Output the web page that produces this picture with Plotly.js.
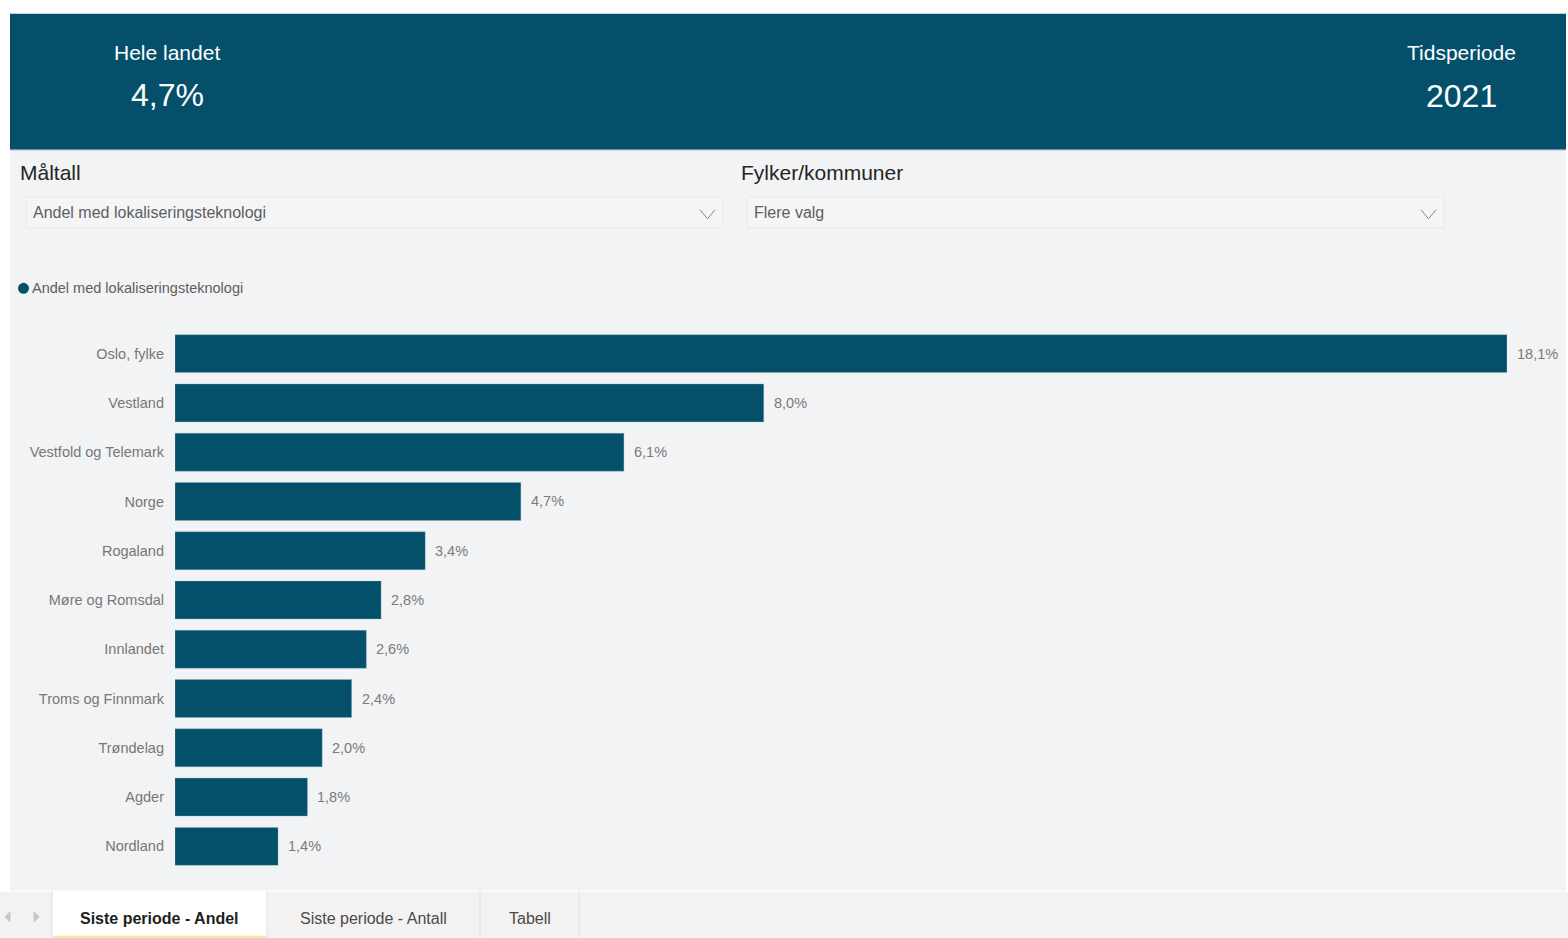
<!DOCTYPE html>
<html>
<head>
<meta charset="utf-8">
<script src="https://cdn.plot.ly/plotly-3.0.1.min.js"></script>
<style>html,body{margin:0;padding:0;background:#fff;}#chart{width:1568px;height:938px;}</style>
</head>
<body>
<div id="chart"></div>
<script>
// ---- data ----
const categories = ["Oslo, fylke","Vestland","Vestfold og Telemark","Norge","Rogaland","Møre og Romsdal","Innlandet","Troms og Finnmark","Trøndelag","Agder","Nordland"];
const values = [18.1, 8.0, 6.1, 4.7, 3.4, 2.8, 2.6, 2.4, 2.0, 1.8, 1.4];
const seriesName = "Andel med lokaliseringsteknologi";
const headerLeftLabel = "Hele landet";
const headerLeftValue = "4,7%";
const headerRightLabel = "Tidsperiode";
const headerRightValue = "2021";
const slicer1Title = "Måltall";
const slicer1Value = "Andel med lokaliseringsteknologi";
const slicer2Title = "Fylker/kommuner";
const slicer2Value = "Flere valg";
const tabs = ["Siste periode - Andel","Siste periode - Antall","Tabell"];

// ---- layout geometry ----
const W = 1568, H = 938;
const mL = 175, mR = 61, mT = 329.2, mB = 66.8;
const pw = W - mL - mR, ph = H - mT - mB;
const px = x => (x - mL) / pw;
const py = y => (H - mB - y) / ph;

const teal = "#04506a";
const FONT = "Liberation Sans, Arial, sans-serif";

function rect(x0,y0,x1,y1,fill,line,lw,layer){
  return {type:"rect",xref:"paper",yref:"paper",x0:px(x0),x1:px(x1),y0:py(y1),y1:py(y0),
    fillcolor:fill,line:{color:line||"rgba(0,0,0,0)",width:lw||0},layer:layer||"below"};
}
function line(x0,y0,x1,y1,color,w){
  return {type:"line",xref:"paper",yref:"paper",x0:px(x0),x1:px(x1),y0:py(y0),y1:py(y1),line:{color:color,width:w||1},layer:"above"};
}
function path(pts,color,w,fill){
  const d = pts.map((p,i)=>(i?"L":"M")+px(p[0])+","+py(p[1])).join(" ") + (fill?" Z":"");
  return {type:"path",xref:"paper",yref:"paper",path:d,line:{color:color,width:w||1},fillcolor:fill||"rgba(0,0,0,0)",layer:"above"};
}
function txt(x,y,text,size,color,xanchor,extra){
  return Object.assign({xref:"paper",yref:"paper",x:px(x),y:py(y),text:text,showarrow:false,
    xanchor:xanchor||"left",yanchor:"middle",font:{family:FONT,size:size,color:color}},extra||{});
}

const shapes = [
  rect(10,150,1566,891,"#f2f3f5"),
  rect(10,14,1566,150,teal),
  line(10,150,1566,150,"#7fa3b3",1),
  rect(26,197,723,228,"#f4f5f7","#e6e7ea",1),
  rect(747,197,1444,228,"#f4f5f7","#e6e7ea",1),
  path([[700,210],[707.5,219],[715,210]],"#8a8886",1),
  path([[1421,210],[1428.5,219],[1436,210]],"#8a8886",1),
  {type:"circle",xref:"paper",yref:"paper",x0:px(18),x1:px(29),y0:py(294),y1:py(283),fillcolor:teal,line:{width:0},layer:"above"},
  rect(0,892,W,938,"#f3f2f1"),
  rect(52,892,267,938,"#ffffff"),
  line(52,892,52,938,"#e1dfdd",1),
  line(267,892,267,938,"#e1dfdd",1),
  line(480,892,480,938,"#e1dfdd",1),
  line(579,892,579,938,"#e1dfdd",1),
  line(53,937,266,937,"#f2e6a0",2),
  path([[10,912],[5,917],[10,922]],"#c8c6c4",1,"#c8c6c4"),
  path([[34,912],[39,917],[34,922]],"#c8c6c4",1,"#c8c6c4")
];

const annotations = [
  txt(167,53,headerLeftLabel,21,"#ffffff","center"),
  txt(167,95,headerLeftValue,32,"#ffffff","center"),
  txt(1461,53,headerRightLabel,21,"#ffffff","center"),
  txt(1461,96,headerRightValue,32,"#ffffff","center"),
  txt(18,173,slicer1Title,21,"#252423","left"),
  txt(739,173,slicer2Title,21,"#252423","left"),
  txt(31,213,slicer1Value,16,"#605e5c","left"),
  txt(752,213,slicer2Value,16,"#605e5c","left"),
  txt(30,288,seriesName,14.5,"#605e5c","left"),
  txt(159,919,tabs[0],16,"#201f1e","center",{font:{family:FONT,size:16,color:"#201f1e",weight:600}}),
  txt(373.5,919,tabs[1],16,"#4a4a4a","center"),
  txt(529.5,919,tabs[2],16,"#4a4a4a","center")
];

// value labels placed at the end of each bar via data coordinates
categories.forEach((c,i)=>{
  annotations.push({x:values[i],y:c,xref:"x",yref:"y",text:values[i].toFixed(1).replace(".",",")+"%",
    showarrow:false,xanchor:"left",yanchor:"middle",xshift:8,
    font:{family:FONT,size:14.5,color:"#7a7a7a"}});
});

const trace = {
  type:"bar",orientation:"h",x:values,y:categories,name:seriesName,
  marker:{color:teal,line:{color:"rgba(140,180,195,0.6)",width:0.6}},
  hoverinfo:"none"
};

const layout = {
  width:W,height:H,
  margin:{l:mL,r:mR,t:mT,b:mB,pad:0},
  paper_bgcolor:"#ffffff",plot_bgcolor:"rgba(0,0,0,0)",
  showlegend:false,bargap:0.23,separators:", ",
  font:{family:FONT},
  xaxis:{range:[0,18.1],showgrid:false,zeroline:false,showticklabels:false,showline:false,fixedrange:true},
  yaxis:{type:"category",autorange:"reversed",showgrid:false,zeroline:false,showline:false,
    ticks:"",ticklabelstandoff:10,tickfont:{family:FONT,size:14.5,color:"#777777"},fixedrange:true},
  shapes:shapes,annotations:annotations
};

Plotly.newPlot("chart",[trace],layout,{displayModeBar:false,staticPlot:true});
</script>
</body>
</html>
